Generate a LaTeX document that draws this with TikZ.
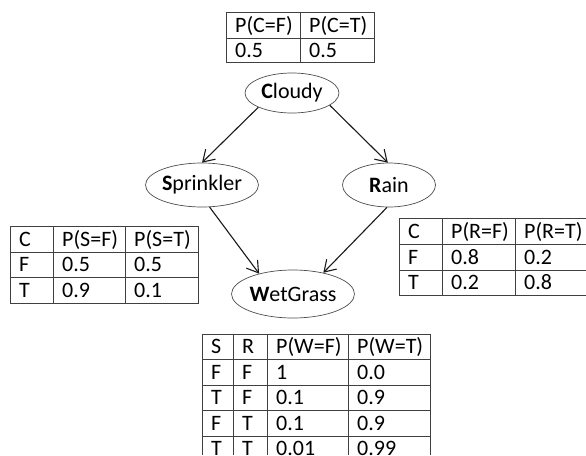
\documentclass[tikz,border=0pt]{standalone}
\usepackage{fontspec}
\setmainfont{Carlito}
\usetikzlibrary{arrows.meta,shapes.geometric}
\begin{document}
\begin{tikzpicture}[x=1pt,y=-1pt,
  bnode/.style={draw=black!70, line width=0.7pt, ellipse, inner sep=0pt,
    font=\fontsize{22}{22}\selectfont},
  arr/.style={draw=black!90, line width=1.1pt,
    -{Straight Barb[length=11pt,width=14pt,line width=1.1pt]}},
  grid/.style={draw=black!75, line width=1pt},
  cell/.style={anchor=base west, inner sep=0pt, font=\fontsize{22}{22}\selectfont}]
\useasboundingbox (0,0) rectangle (586,455);

% network nodes
\node[bnode, minimum width=94, minimum height=40] (C) at (292,93) {\textbf{C}loudy};
\node[bnode, minimum width=92, minimum height=44] (S) at (202,185) {\textbf{S}prinkler};
\node[bnode, minimum width=93, minimum height=44] (R) at (389,185) {\textbf{R}ain};
\node[bnode, minimum width=105, minimum height=48] (W) at (293,294) {\textbf{W}etGrass};

% edges
\draw[arr] (C.203) -- (S.north);
\draw[arr] (C.342) -- (R.93);
\draw[arr] (S.289) -- (W.149);
\draw[arr] (R.265) -- (W.35);

% table for Cloudy
\draw[grid] (226,12) rectangle (374,62);
\draw[grid] (226,38) -- (374,38);
\draw[grid] (300,12) -- (300,62);
\node[cell] (c11) at (235,32) {P(C=F)};
\node[cell] (c12) at (309,32) {P(C=T)};
\node[cell] (c21) at (235,57) {0.5};
\node[cell] (c22) at (309,57) {0.5};

% table for Sprinkler
\draw[grid] (10,226) rectangle (198,303);
\draw[grid] (10,252) -- (198,252);
\draw[grid] (10,277) -- (198,277);
\draw[grid] (53,226) -- (53,303);
\draw[grid] (125,226) -- (125,303);
\node[cell] (s11) at (19,246) {C};
\node[cell] (s12) at (62,246) {P(S=F)};
\node[cell] (s13) at (134,246) {P(S=T)};
\node[cell] (s21) at (19,271.5) {F};
\node[cell] (s22) at (62,271.5) {0.5};
\node[cell] (s23) at (134,271.5) {0.5};
\node[cell] (s31) at (19,297) {T};
\node[cell] (s32) at (62,297) {0.9};
\node[cell] (s33) at (134,297) {0.1};

% table for Rain (runs past the right edge)
\draw[grid] (586,218) -- (399,218) -- (399,295) -- (586,295);
\draw[grid] (399,244) -- (586,244);
\draw[grid] (399,270) -- (586,270);
\draw[grid] (442,218) -- (442,295);
\draw[grid] (515,218) -- (515,295);
\node[cell] (r11) at (408,238) {C};
\node[cell] (r12) at (451,238) {P(R=F)};
\node[cell] (r13) at (524,238) {P(R=T)};
\node[cell] (r21) at (408,264) {F};
\node[cell] (r22) at (451,264) {0.8};
\node[cell] (r23) at (524,264) {0.2};
\node[cell] (r31) at (408,289.5) {T};
\node[cell] (r32) at (451,289.5) {0.2};
\node[cell] (r33) at (524,289.5) {0.8};

% table for WetGrass (cut off at the bottom)
\draw[grid] (202,455) -- (202,334) -- (430,334) -- (430,455);
\foreach \yy in {359,385,410,436} \draw[grid] (202,\yy) -- (430,\yy);
\foreach \xx in {233,267,348} \draw[grid] (\xx,334) -- (\xx,455);
\node[cell] (w11) at (211,353.5) {S};
\node[cell] (w12) at (242,353.5) {R};
\node[cell] (w13) at (276,353.5) {P(W=F)};
\node[cell] (w14) at (357,353.5) {P(W=T)};
\node[cell] (w21) at (211,379) {F};
\node[cell] (w22) at (242,379) {F};
\node[cell] (w23) at (276,379) {1};
\node[cell] (w24) at (357,379) {0.0};
\node[cell] (w31) at (211,404.5) {T};
\node[cell] (w32) at (242,404.5) {F};
\node[cell] (w33) at (276,404.5) {0.1};
\node[cell] (w34) at (357,404.5) {0.9};
\node[cell] (w41) at (211,430) {F};
\node[cell] (w42) at (242,430) {T};
\node[cell] (w43) at (276,430) {0.1};
\node[cell] (w44) at (357,430) {0.9};
\node[cell] (w51) at (211,455.5) {T};
\node[cell] (w52) at (242,455.5) {T};
\node[cell] (w53) at (276,455.5) {0.01};
\node[cell] (w54) at (357,455.5) {0.99};
\end{tikzpicture}
\end{document}
